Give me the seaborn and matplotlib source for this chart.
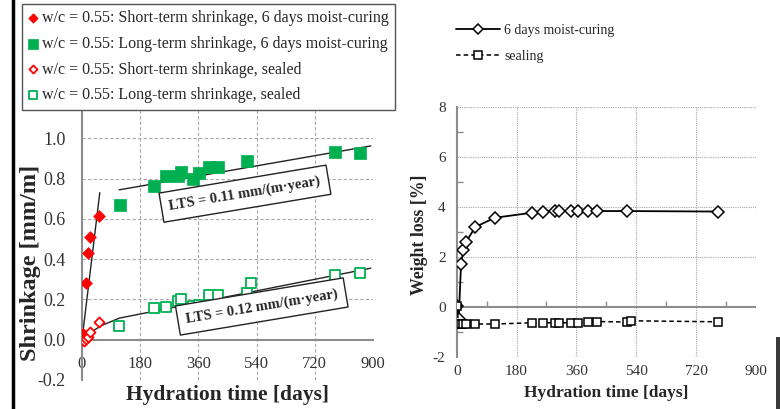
import matplotlib
matplotlib.use("Agg")
import matplotlib.pyplot as plt
import seaborn as sns
import pandas as pd
from matplotlib.lines import Line2D
from matplotlib.patches import Rectangle

sns.set_theme(style="white")
plt.rcParams['font.family'] = ['Liberation Serif', 'DejaVu Serif']
plt.rcParams['axes.unicode_minus'] = False

# ---------------- data (left: shrinkage) ----------------
st_moist_days = [4, 11, 18, 25, 52]
st_moist_vals = [0.03, 0.28, 0.43, 0.51, 0.615]
lt_moist_days = [117, 224, 259, 296, 306, 342, 363, 393, 422, 509, 783, 860]
lt_moist_vals = [0.67, 0.765, 0.813, 0.815, 0.835, 0.80, 0.826, 0.856, 0.855, 0.888, 0.932, 0.926]
st_sealed_days = [0, 5, 13, 19, 26, 53]
st_sealed_vals = [0.0, -0.005, 0.005, 0.015, 0.04, 0.09]
lt_sealed_days = [115, 224, 259, 296, 306, 342, 363, 393, 422, 509, 523, 783, 860]
lt_sealed_vals = [0.07, 0.155, 0.162, 0.19, 0.20, 0.165, 0.174, 0.22, 0.223, 0.23, 0.284, 0.322, 0.33]

# trend lines
trend_st_days = [0, 55]
trend_st_vals = [0.0, 0.73]
trend_lt_moist_days = [115, 893]
trend_lt_moist_vals = [0.744, 0.962]
trend_lt_sealed_days = [0, 20, 60, 115, 893]
trend_lt_sealed_vals = [0.0, 0.03, 0.07, 0.107, 0.355]

legend_left = ["w/c = 0.55: Short-term shrinkage, 6 days moist-curing",
               "w/c = 0.55: Long-term shrinkage, 6 days moist-curing",
               "w/c = 0.55: Short-term shrinkage, sealed",
               "w/c = 0.55: Long-term shrinkage, sealed"]
lts_labels = ["LTS = 0.11 mm/(m·year)", "LTS = 0.12 mm/(m·year)"]

# ---------------- data (right: weight loss) ----------------
moist_days = [0, 6, 13, 20, 28, 56, 114, 225, 260, 296, 308, 344, 364, 394, 423, 511, 785]
moist_vals = [0.03, -0.5, 1.7, 2.27, 2.6, 3.2, 3.57, 3.77, 3.81, 3.84, 3.84, 3.84, 3.84, 3.84, 3.84, 3.84, 3.82]
seal_days = [0, 6, 13, 20, 28, 56, 114, 225, 260, 296, 308, 344, 364, 394, 423, 511, 523, 785]
seal_vals = [0.03, -0.7, -0.7, -0.7, -0.7, -0.69, -0.69, -0.64, -0.64, -0.64, -0.64, -0.64, -0.64, -0.62,
             -0.59, -0.61, -0.56, -0.6]
legend_right = ["6 days moist-curing", "sealing"]

x_ticks = [0, 180, 360, 540, 720, 900]

RED = "#ff0000"
GREEN = "#00b050"
GRID = "#a8a8a8"
AX = "#8c8c8c"

fig = plt.figure(figsize=(7.8, 4.09), dpi=100)
fig.patch.set_facecolor("white")

# ======================= LEFT =======================
ax1 = fig.add_axes([82/780, 1-380/409, (373-82)/780, (380-98)/409])
ax1.set_facecolor("white")

sns.lineplot(x=trend_st_days, y=trend_st_vals, ax=ax1, color="#222222", lw=1.0, sort=False,
             estimator=None, zorder=2)
sns.lineplot(x=trend_lt_moist_days, y=trend_lt_moist_vals, ax=ax1, color="#222222", lw=1.0,
             sort=False, estimator=None, zorder=2)
sns.lineplot(x=trend_lt_sealed_days, y=trend_lt_sealed_vals, ax=ax1, color="#222222", lw=1.0,
             sort=False, estimator=None, zorder=2)

sns.scatterplot(x=st_moist_days, y=st_moist_vals, ax=ax1, marker="D", s=36, color=RED,
                edgecolor=RED, linewidth=0.5, label=legend_left[0], zorder=4)
sns.scatterplot(x=lt_moist_days, y=lt_moist_vals, ax=ax1, marker="s", s=70, color=GREEN,
                edgecolor=GREEN, linewidth=0.5, label=legend_left[1], zorder=4)
sns.scatterplot(x=st_sealed_days, y=st_sealed_vals, ax=ax1, marker="D", s=26, facecolor="white",
                edgecolor=RED, linewidth=1.3, label=legend_left[2], zorder=4)
sns.scatterplot(x=lt_sealed_days, y=lt_sealed_vals, ax=ax1, marker="s", s=60, facecolor="white",
                edgecolor=GREEN, linewidth=1.3, label=legend_left[3], zorder=4)

ax1.set_xlim(0, 900)
ax1.set_ylim(-0.2, 1.2)
ax1.set_xticks(x_ticks)
ax1.set_yticks([-0.2, 0.0, 0.2, 0.4, 0.6, 0.8, 1.0])
ax1.set_yticklabels([f"{v:.1f}" for v in [-0.2, 0.0, 0.2, 0.4, 0.6, 0.8, 1.0]])
ax1.spines['bottom'].set_position(('data', 0))
for s in ['top', 'right']:
    ax1.spines[s].set_visible(False)
for s in ['left', 'bottom']:
    ax1.spines[s].set_color(AX)
    ax1.spines[s].set_linewidth(1.5)
ax1.tick_params(axis='both', which='major', labelsize=12, colors="#333333", direction='out',
                length=4, width=1, pad=4)
ax1.tick_params(axis='y', labelsize=13, pad=8)
ax1.tick_params(axis='x', pad=8)
for v in [180, 360, 540, 720, 900]:
    ax1.axvline(v, color=GRID, lw=0.8, ls=(0, (3, 2)), zorder=0)
for v in [-0.2, 0.2, 0.4, 0.6, 0.8, 1.0]:
    ax1.axhline(v, color=GRID, lw=0.8, ls=(0, (3, 2)), zorder=0)
ax1.set_xlabel("Hydration time [days]", fontsize=15.5, fontweight='bold')
ax1.xaxis.set_label_coords(0.5, -0.018)
ax1.set_ylabel("Shrinkage [mm/m]", fontsize=17.5, fontweight='bold')
ax1.yaxis.set_label_coords(-0.14, 0.415)

h, l = ax1.get_legend_handles_labels()
if ax1.get_legend() is not None:
    ax1.get_legend().remove()
leg1 = fig.legend(h, l, loc='upper left', bbox_to_anchor=(22/780, 1-4/409), borderaxespad=0,
                  frameon=True, fancybox=False, fontsize=11.5, handlelength=0.6, handletextpad=0.25,
                  labelspacing=0.6, borderpad=0.4, markerscale=0.8)
leg1.get_frame().set_edgecolor("#555555")
leg1.get_frame().set_linewidth(1.0)
leg1.get_frame().set_alpha(1)

ax1.text(504, 0.725, lts_labels[0], fontsize=10.5, fontweight='bold', rotation=9.5,
         ha='center', va='center', rotation_mode='anchor', zorder=5,
         bbox=dict(boxstyle='square,pad=0.55', fc='white', ec='#222222', lw=1.0))
ax1.text(556, 0.165, lts_labels[1], fontsize=10.5, fontweight='bold', rotation=9.5,
         ha='center', va='center', rotation_mode='anchor', zorder=5,
         bbox=dict(boxstyle='square,pad=0.55', fc='white', ec='#222222', lw=1.0))

# ======================= RIGHT =======================
ax2 = fig.add_axes([456.7/780, 1-356.7/409, (756-456.7)/780, (356.7-107.3)/409])
ax2.set_facecolor("white")
sns.lineplot(x=moist_days, y=moist_vals, ax=ax2, color="black", lw=1.3, sort=False, estimator=None,
             marker="D", markersize=6, markerfacecolor="white", markeredgecolor="black",
             markeredgewidth=1.1, zorder=4)
sns.lineplot(x=seal_days, y=seal_vals, ax=ax2, color="black", lw=1.1, sort=False, estimator=None,
             marker="s", markersize=5.5, markerfacecolor="white", markeredgecolor="black",
             markeredgewidth=1.1, linestyle=(0, (3, 2)), zorder=4)
ax2.set_xlim(0, 900)
ax2.set_ylim(-2, 8)
ax2.set_xticks(x_ticks)
ax2.set_yticks([-2, 0, 2, 4, 6, 8])
ax2.set_yticks([-1, 1, 3, 5, 7], minor=True)
for s in ['top', 'right', 'bottom']:
    ax2.spines[s].set_visible(False)
ax2.spines['left'].set_color(AX)
ax2.spines['left'].set_linewidth(1.5)
ax2.tick_params(axis='x', which='major', labelsize=11, colors="#333333", length=0, pad=6)
ax2.tick_params(axis='y', which='major', labelsize=11, colors="#333333", length=0, pad=8)
ax2.tick_params(axis='y', which='minor', direction='in', length=4, width=1, color=AX, left=True)
for v in [180, 360, 540, 720, 900]:
    ax2.axvline(v, color=GRID, lw=0.8, ls=(0, (1, 1)), zorder=0)
for v in [-2, 2, 4, 6, 8]:
    ax2.axhline(v, color=GRID, lw=0.8, ls=(0, (1, 1)), zorder=0)
ax2.axhline(0, color=AX, lw=1.5, zorder=1)
sec = ax2.secondary_xaxis(0.2)
sec.set_xticks([90, 270, 450, 630, 810])
sec.set_xticklabels([])
sec.spines['bottom'].set_visible(False)
sec.tick_params(direction='in', length=4, width=1, color=AX)
ax2.set_xlabel("Hydration time [days]", fontsize=12.5, fontweight='bold')
ax2.xaxis.set_label_coords(0.5, -0.115)
ax2.set_ylabel("Weight loss [%]", fontsize=12.8, fontweight='bold')
ax2.yaxis.set_label_coords(-0.095, 0.49)

rh = [Line2D([], [], color='black', lw=1.3, marker='D', markersize=5.5, mfc='white', mec='black', mew=1.1),
      Line2D([], [], color='black', lw=1.1, ls=(0, (3, 2)), marker='s', markersize=5.5, mfc='white',
             mec='black', mew=1.1)]
fig.legend(rh, legend_right, loc='upper left', bbox_to_anchor=(450/780, 1-18/409), borderaxespad=0,
           frameon=False, fontsize=10, handlelength=3.2, handletextpad=0.3, labelspacing=0.95)

# screenshot border line at left edge and dark strip at bottom right
fig.add_artist(Line2D([13/780, 13/780], [0, 1], color='black', lw=2.5, transform=fig.transFigure))
fig.add_artist(Rectangle((776/780, 0), 4/780, (409-337)/409, transform=fig.transFigure,
                         facecolor='#3a3a3a', edgecolor='none'))

fig.savefig("out.png", dpi=100)
